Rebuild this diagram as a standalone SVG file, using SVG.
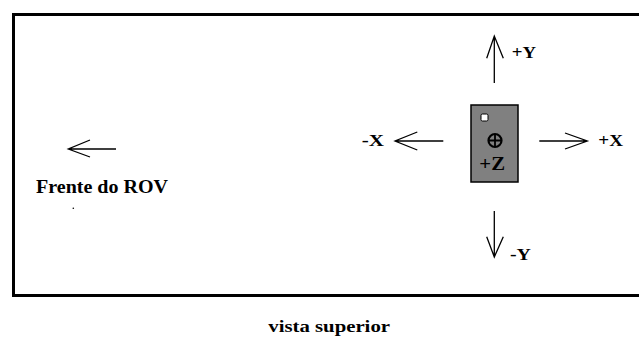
<svg xmlns="http://www.w3.org/2000/svg" width="639" height="338" viewBox="0 0 639 338">
<style>
.t{font-family:"Liberation Serif","Times New Roman",serif;font-weight:bold;fill:#000}
.ln{stroke:#000;stroke-width:1.3;fill:none}
</style>
<rect x="0" y="0" width="639" height="338" fill="#fff"/>
<g id="frame"><rect x="13.5" y="14.5" width="640" height="281" fill="none" stroke="#000" stroke-width="3"/></g>
<g id="connectors">
<path class="ln" d="M494.3,83 V36 M486.7,58.3 L494.3,36 L503.3,58.3"/>
<path class="ln" d="M494.3,211 V257 M486.7,236.7 L494.3,257 L503.3,236.7"/>
<path class="ln" d="M443.3,141 H395 M417.3,132 L395,141 L417.3,150"/>
<path class="ln" d="M539.3,141 H587.3 M565,133 L587.3,141 L565,149"/>
<path class="ln" d="M116,149 H68.3 M90,140 L68.3,149 L90,157"/>
</g>
<g id="rov">
<rect x="471" y="105" width="47" height="77" fill="#808080" stroke="#000" stroke-width="1.5"/>
<rect x="481" y="114" width="7" height="7" rx="1.5" fill="#fff" stroke="#000" stroke-width="1"/>
<circle cx="495" cy="140.5" r="6.5" fill="none" stroke="#000" stroke-width="2.2"/>
<path d="M488.5,140.5 H501.5 M495,134 V147" stroke="#000" stroke-width="1.8"/>
<text class="t" x="479.3" y="170" font-size="18" textLength="25.7" lengthAdjust="spacingAndGlyphs">+Z</text>
</g>
<g id="labels">
<text class="t" x="511.7" y="58.3" font-size="17" textLength="24.3" lengthAdjust="spacingAndGlyphs">+Y</text>
<text class="t" x="510" y="260" font-size="17" textLength="21" lengthAdjust="spacingAndGlyphs">-Y</text>
<text class="t" x="361.7" y="146" font-size="17" textLength="22.3" lengthAdjust="spacingAndGlyphs">-X</text>
<text class="t" x="598.3" y="146" font-size="17" textLength="24.7" lengthAdjust="spacingAndGlyphs">+X</text>
<text class="t" x="36" y="192.7" font-size="18" textLength="132" lengthAdjust="spacingAndGlyphs">Frente do ROV</text>
<text class="t" x="268.3" y="331.5" font-size="16" textLength="121.7" lengthAdjust="spacingAndGlyphs">vista superior</text>
<circle cx="73.3" cy="208.3" r="0.8" fill="#000"/>
</g>
</svg>
